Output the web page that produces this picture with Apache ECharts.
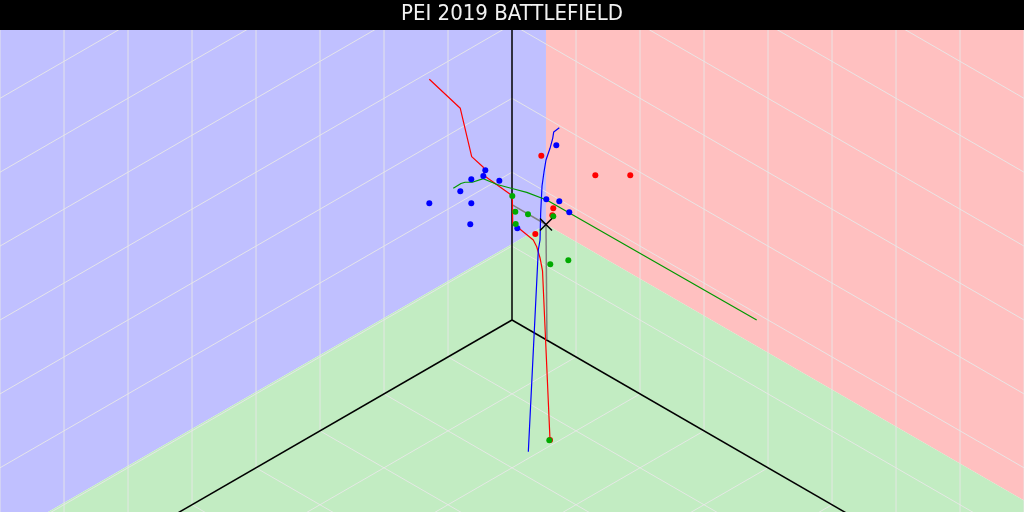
<!DOCTYPE html>
<html><head><meta charset="utf-8">
<script src="https://cdn.jsdelivr.net/npm/echarts@6/dist/echarts.min.js"></script>
<style>html,body{margin:0;padding:0;background:#fff}#c{width:1024px;height:512px}</style>
</head><body><div id="c"></div>
<script>
// ---- data (plane units: 1 unit = one grid column; origin = corner of the room) ----
const titleText = 'PEI 2019 BATTLEFIELD';

const redPath = [[-1.292,3.761],[-0.808,3.308],[-0.630,2.552],[-0.448,2.386],[-0.433,2.255],
  [0.005,1.942],[0.011,1.511],[0.333,1.250],[0.386,1.145],[0.438,0.969],[0.477,0.766],[0.594,-1.875]];
const bluePath = [[0.739,3.005],[0.652,2.938],[0.636,2.839],[0.594,2.683],[0.531,2.500],[0.500,2.313],
  [0.469,2.094],[0.448,1.672],[0.438,1.250],[0.411,1.094],[0.255,-2.058]];
const greenPath = [[-0.917,2.058],[-0.797,2.133],[-0.734,2.152],[-0.620,2.152],[-0.448,2.208],
  [-0.234,2.117],[0.000,2.055],[0.230,1.995],[0.542,1.875],[3.823,0.000]];

const blueDots = [[-0.417,2.339],[-0.448,2.250],[-0.636,2.198],[-0.198,2.177],[-0.808,2.011],
  [-1.292,1.823],[-0.636,1.823],[-0.652,1.495],[0.083,1.433],[0.536,1.886],[0.739,1.855],
  [0.895,1.683],[0.692,2.730]];
const redDots = [[0.458,2.567],[1.302,2.261],[1.848,2.261],[0.645,1.745],[0.630,1.636],[0.364,1.344],[0.594,-1.875]];
const greenDots = [[0.005,1.938],[0.052,1.692],[0.250,1.652],[0.058,1.500],[0.645,1.620],
  [0.598,0.870],[0.880,0.933],[0.583,-1.880]];

const tiePoint = [0.531, 1.492];   // X marker, where the three colour regions meet
const wallFoot = [0.005, 1.800];   // drop to the back-left wall
const floorFoot = [0.546, -0.310]; // drop to the floor

const gridSteps = [1,2,3,4,5,6,7,8];
const xRange = [-8, 8];
const yRange = [-3, 4.53125];

// ---- construction ----
const T = Math.tan(Math.PI/6);
const H = 1/Math.cos(Math.PI/6);
const [x0,x1] = xRange, [y0,y1] = yRange;
const cx = tiePoint[0], cy = tiePoint[1];
const xl = cx - (cy - y0)/T;
const yr = cy - (x1 - cx)*T;
const regions = [
  {fill:'#c0c0ff', pts:[[x0,y1],[cx,y1],[cx,cy],[xl,y0],[x0,y0]]},
  {fill:'#ffc0c0', pts:[[cx,y1],[x1,y1],[x1,yr],[cx,cy]]},
  {fill:'#c2ecc2', pts:[[cx,cy],[x1,yr],[x1,y0],[xl,y0]]}
];

const gridSegs = [];
gridSteps.forEach(k=>{
  gridSegs.push([-k, y1, -k, -k*T]);           // left wall verticals
  gridSegs.push([k, y1, k, -k*T]);             // right wall verticals
  gridSegs.push([0, k*H, x0, k*H + x0*T]);     // left wall slants
  gridSegs.push([0, k*H, x1, k*H - x1*T]);     // right wall slants
  gridSegs.push([k, -k*T, k-12, -k*T-12*T]);   // floor, parallel to left edge
  gridSegs.push([-k, -k*T, -k+12, -k*T-12*T]); // floor, parallel to right edge
});
const axisSegs = [[0,0,0,y1],[0,0,x0,x0*T],[0,0,x1,-x1*T]];
const dropSegs = [[tiePoint[0],tiePoint[1],wallFoot[0],wallFoot[1]],
                  [tiePoint[0],tiePoint[1],floorFoot[0],floorFoot[1]]];

function segSeries(segs, color, width, z){
  return {type:'custom', coordinateSystem:'cartesian2d', clip:true, z:z, silent:true,
    data: segs, encode:{x:[0,2], y:[1,3]},
    renderItem:(p, api)=>{
      const a = api.coord([api.value(0),api.value(1)]);
      const b = api.coord([api.value(2),api.value(3)]);
      return {type:'line', shape:{x1:a[0],y1:a[1],x2:b[0],y2:b[1]},
        style:{stroke:color, lineWidth:width}};
    }};
}
function pathSeries(data, color){
  return {type:'line', data:data, z:4, symbol:'none', clip:true, silent:true,
    lineStyle:{color:color, width:1.2}};
}
function dotSeries(data, color){
  return {type:'scatter', data:data, z:5, symbol:'circle', symbolSize:6, silent:true,
    itemStyle:{color:color, opacity:1}};
}

const chart = echarts.init(document.getElementById('c'), null, {renderer:'canvas'});
chart.setOption({
  animation:false,
  backgroundColor:'#ffffff',
  grid:{left:0, right:0, top:30, bottom:0},
  xAxis:{type:'value', min:x0, max:x1, show:false},
  yAxis:{type:'value', min:y0, max:y1, show:false},
  graphic:[
    {type:'rect', left:0, top:0, shape:{width:1024, height:30}, style:{fill:'#000'}, z:10},
    {type:'text', x:512, y:14, z:11, style:{text:titleText, fill:'#f2f2f2',
      font:'22px "DejaVu Sans Condensed", "DejaVu Sans", sans-serif',
      textAlign:'center', textVerticalAlign:'middle'}}
  ],
  series:[
    {type:'custom', coordinateSystem:'cartesian2d', clip:true, z:0, silent:true,
      data: regions.map(()=>[cx,cy]),
      renderItem:(p, api)=>({type:'polygon',
        shape:{points: regions[p.dataIndex].pts.map(pt=>api.coord(pt))},
        style:{fill: regions[p.dataIndex].fill}})},
    segSeries(gridSegs, 'rgba(232,232,232,0.9)', 1, 1),
    segSeries(axisSegs, '#000000', 1.5, 2),
    segSeries(dropSegs, '#808080', 1.5, 3),
    pathSeries(redPath, '#ff0000'),
    pathSeries(bluePath, '#0000ff'),
    pathSeries(greenPath, '#009900'),
    dotSeries(blueDots, '#0000ff'),
    dotSeries(redDots, '#ff0000'),
    dotSeries(greenDots, '#00aa00'),
    {type:'custom', coordinateSystem:'cartesian2d', z:6, silent:true,
      data:[tiePoint],
      renderItem:(p, api)=>{
        const c = api.coord([api.value(0), api.value(1)]); const r = 6;
        return {type:'group', children:[
          {type:'line', shape:{x1:c[0]-r,y1:c[1]-r,x2:c[0]+r,y2:c[1]+r}, style:{stroke:'#000', lineWidth:1.5}},
          {type:'line', shape:{x1:c[0]-r,y1:c[1]+r,x2:c[0]+r,y2:c[1]-r}, style:{stroke:'#000', lineWidth:1.5}}
        ]};
      }}
  ]
});
</script></body></html>
